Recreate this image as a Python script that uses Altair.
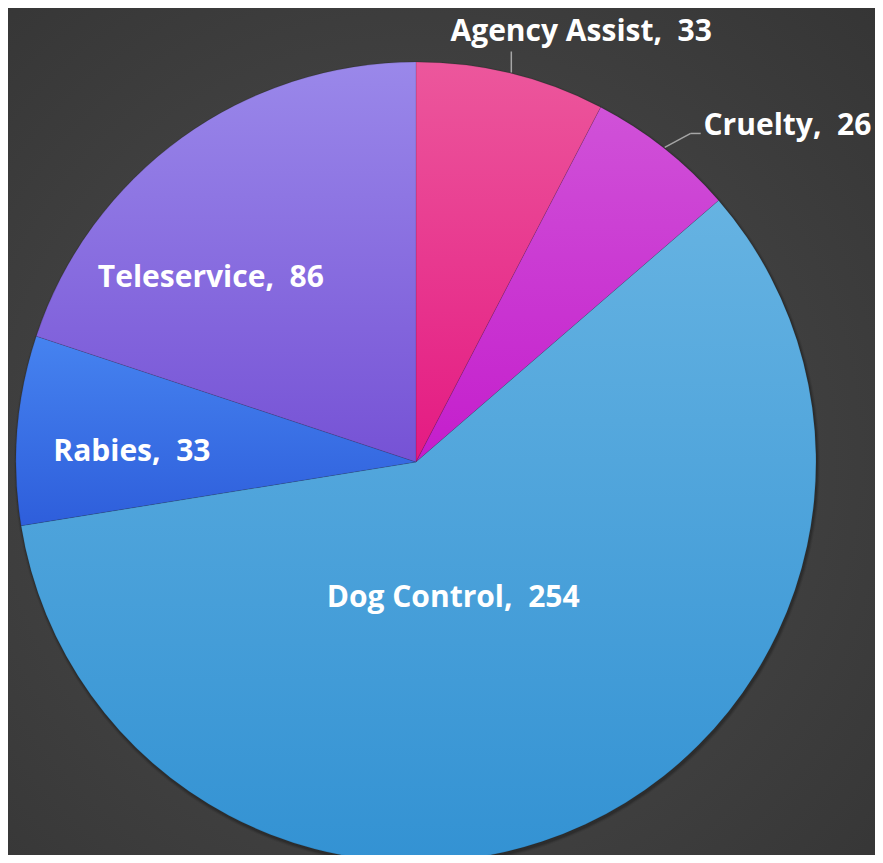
import altair as alt
import pandas as pd

categories = ["Agency Assist", "Cruelty", "Dog Control", "Rabies", "Teleservice"]
values = [33, 26, 254, 33, 86]
top_colors = ["#ec579c", "#d052d8", "#66b3e2", "#4683f0", "#9a88ea"]
bottom_colors = ["#e41a82", "#c41dcc", "#3392d3", "#2e5edb", "#7652d5"]

df = pd.DataFrame({"category": categories, "value": values, "order": list(range(len(categories)))})

W, H = 867, 847
CX, CY, R = 408, 454, 400
FONT = "Open Sans"
FS = 30

base = (
    alt.Chart(df)
    .transform_window(cum="sum(value)", sort=[alt.SortField("order")], frame=[None, 0])
    .transform_joinaggregate(total="sum(value)")
    .transform_calculate(
        start="2*PI*(datum.cum - datum.value)/datum.total",
        end="2*PI*datum.cum/datum.total",
        mid="PI*(2*datum.cum - datum.value)/datum.total",
        label="datum.category + ', \u00a0' + datum.value",
    )
    .transform_calculate(
        ex=f"{CX} + {R + 1}*sin(datum.mid)",
        ey=f"{CY} - {R + 1}*cos(datum.mid)",
    )
)

layers = []

bg = alt.RadialGradient(
    gradient="radial",
    x1=0.47, y1=0.53, r1=0, x2=0.47, y2=0.53, r2=0.75,
    stops=[
        alt.GradientStop(offset=0, color="#4e4e4e"),
        alt.GradientStop(offset=1, color="#353535"),
    ],
)
layers.append(
    alt.Chart(pd.DataFrame({"a": [0]}))
    .mark_rect(fill=bg)
    .encode(x=alt.value(0), x2=alt.value(W), y=alt.value(0), y2=alt.value(H))
)

# soft shadow
for off, op in [(3, 0.06), (2, 0.10), (1, 0.14)]:
    layers.append(
        base.mark_arc(radius=R + off, x=CX + 1, y=CY + 2, fill="#000000", opacity=op).encode(
            theta=alt.Theta("start:Q", scale=None), theta2="end:Q"
        )
    )

for i, c in enumerate(categories):
    grad = alt.LinearGradient(
        gradient="linear",
        stops=[
            alt.GradientStop(offset=0, color=top_colors[i]),
            alt.GradientStop(offset=1, color=bottom_colors[i]),
        ],
        x1=0, x2=0, y1=0, y2=1,
    )
    layers.append(
        base.transform_filter(alt.datum.category == c)
        .mark_arc(radius=R, x=CX, y=CY, fill=grad, stroke="#000000", strokeOpacity=0.14, strokeWidth=0.8)
        .encode(theta=alt.Theta("start:Q", scale=None), theta2="end:Q")
    )

# leader lines
leader_color = "#a6a6a6"
layers.append(
    base.transform_filter(alt.datum.category == "Agency Assist")
    .transform_calculate(ey2="datum.ey - 21")
    .mark_rule(color=leader_color, strokeWidth=1.5)
    .encode(x=alt.X("ex:Q", scale=None), y=alt.Y("ey:Q", scale=None), y2="ey2:Q")
)
layers.append(
    base.transform_filter(alt.datum.category == "Cruelty")
    .transform_calculate(ex2="datum.ex + 26", ey2="datum.ey - 14")
    .mark_rule(color=leader_color, strokeWidth=1.5)
    .encode(x=alt.X("ex:Q", scale=None), y=alt.Y("ey:Q", scale=None), x2="ex2:Q", y2="ey2:Q")
)
layers.append(
    base.transform_filter(alt.datum.category == "Cruelty")
    .transform_calculate(ex2="datum.ex + 26", ex3="datum.ex + 36", ey2="datum.ey - 14")
    .mark_rule(color=leader_color, strokeWidth=1.5)
    .encode(x=alt.X("ex2:Q", scale=None), y=alt.Y("ey2:Q", scale=None), x2="ex3:Q")
)

# labels: (category, radius, dx, dy, align)
label_layout = [
    ("Agency Assist", 430, 63, -3, "center"),
    ("Cruelty", 420, 27, 2, "left"),
    ("Dog Control", 140, -22, 18, "center"),
    ("Rabies", 284, -1, 22, "center"),
    ("Teleservice", 277, -43, 50, "center"),
]
for c, r, dx, dy, al in label_layout:
    layers.append(
        base.transform_filter(alt.datum.category == c)
        .mark_text(
            x=CX, y=CY, radius=r, dx=dx, dy=dy, align=al, baseline="alphabetic",
            font=FONT, fontSize=FS, fontWeight="bold", color="#ffffff",
        )
        .encode(theta=alt.Theta("mid:Q", scale=None), text="label:N")
    )

chart = (
    alt.layer(*layers)
    .properties(width=W, height=H, padding=0, autosize="none")
    .configure_view(strokeWidth=0)
)

chart.save("out.html", embed_options={"renderer": "svg", "actions": False})
